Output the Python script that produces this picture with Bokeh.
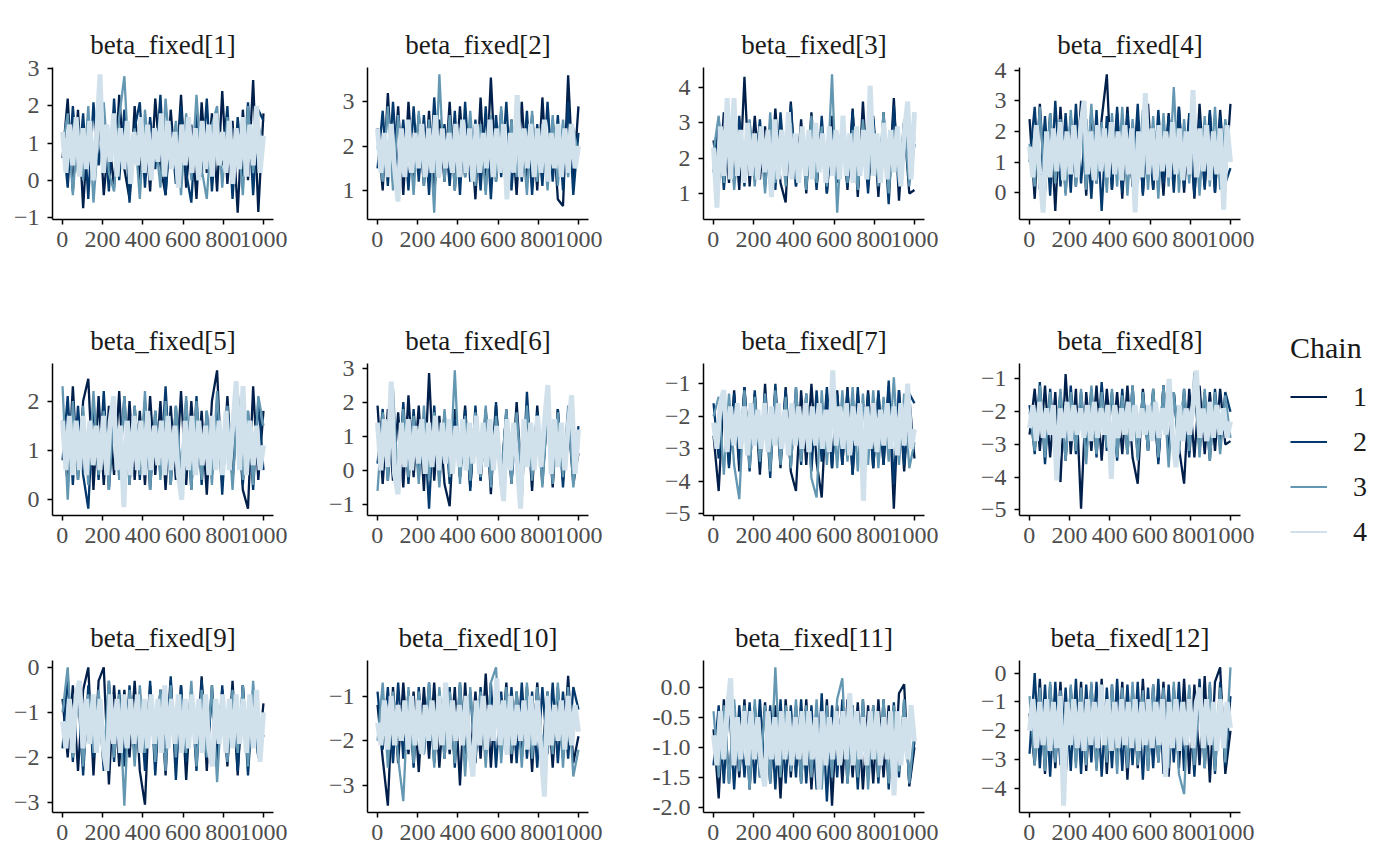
import numpy as np
from bokeh.plotting import figure
from bokeh.layouts import column, row
from bokeh.models import FixedTicker, Legend, LegendItem, PrintfTickFormatter
from bokeh.embed import file_html
from bokeh.resources import INLINE

# ---------------- data ----------------
param_names = ["beta_fixed[1]", "beta_fixed[2]", "beta_fixed[3]", "beta_fixed[4]",
               "beta_fixed[5]", "beta_fixed[6]", "beta_fixed[7]", "beta_fixed[8]",
               "beta_fixed[9]", "beta_fixed[10]", "beta_fixed[11]", "beta_fixed[12]"]
chain_names = ["1", "2", "3", "4"]
chain_colors = ["#011f4b", "#03396c", "#6497b1", "#d1e1ec"]
iter_first, iter_last = 1, 1000
x_tick_values = [0, 200, 400, 600, 800, 1000]
y_tick_values = [[-1, 0, 1, 2, 3], [1, 2, 3], [1, 2, 3, 4], [0, 1, 2, 3, 4],
                 [0, 1, 2], [-1, 0, 1, 2, 3], [-5, -4, -3, -2, -1], [-5, -4, -3, -2, -1],
                 [-3, -2, -1, 0], [-3, -2, -1], [-2.0, -1.5, -1.0, -0.5, 0.0], [-4, -3, -2, -1, 0]]

bf1_c1 = [0.6, 2.2, -0.3, 1.9, -0.75, 1.6, 0.1, 2.1, -0.4, 1.2, -0.2, 2.3, 0.3, -0.5, 2.0, 0.0, 1.7, -0.3, 2.2, 0.4, -0.4, 1.9, 0.1, 2.3, -0.2, 1.5, -0.5, 2.1, 0.2, 1.8, -0.3, 2.4, -0.1, 1.6, -0.87, 1.9, 0.0, 2.7, -0.85, 1.8]
bf1_c2 = [1.3, -0.2, 2.0, 0.2, 1.8, -0.5, 2.1, 0.4, 1.6, -0.3, 2.2, 0.0, 1.9, -0.6, 1.4, 2.1, -0.2, 1.7, 0.3, 2.3, -0.4, 1.5, -0.1, 2.0, 0.2, -0.6, 1.8, 0.1, 2.2, -0.3, 1.6, 0.4, 2.0, -0.5, 1.7, 0.1, 2.1, -0.4, 1.9, 1.6]
bf1_c3 = [0.9, 1.8, -0.4, 1.5, 0.0, 2.0, -0.6, 1.3, 2.1, 0.2, -0.3, 1.7, 2.8, 0.1, 1.4, -0.5, 1.9, 0.3, 1.2, -0.2, 2.2, 0.5, 1.6, -0.4, 1.8, 0.0, 2.3, 0.3, -0.5, 1.5, 2.0, -0.2, 1.7, 0.1, 1.3, -0.4, 2.0, 0.2, 1.5, 0.9]
bf1_c4 = [1.3, 0.2, 1.5, 0.4, 1.7, 0.1, 1.4, 0.3, 1.6, 0.0, 1.2, 2.85, 0.2, 1.5, 0.5, 1.8, 0.1, 1.4, 0.3, 1.6, -0.1, 1.3, 0.4, 1.7, 0.2, 1.5, 0.0, 1.4, 0.5, 1.8, 0.1, 1.6, 0.3, 1.3, -0.2, 1.5, 0.4, 1.7, 0.2, 1.4, 0.0, 1.6, 0.3, 1.5, 0.1, 1.8, 0.4, 1.3, 0.2, 1.6, -0.1, 1.4, 0.3, 1.7, 0.1, 1.5, 0.4, 2.0, 0.2, 1.2]

bf2_c1 = [2.4, 1.0, 3.2, 1.2, 2.9, 0.9, 3.0, 1.3, 2.7, 1.1, 2.8, 0.9, 2.6, 1.2, 3.0, 1.0, 2.9, 1.3, 2.5, 0.8, 3.1, 1.0, 3.55, 1.2, 2.8, 1.0, 2.6, 0.9, 3.0, 1.2, 2.7, 1.0, 3.1, 1.1, 2.6, 0.8, 0.65, 3.6, 1.2, 2.9]
bf2_c2 = [1.5, 2.8, 1.1, 3.0, 1.3, 2.6, 1.0, 2.9, 1.2, 2.7, 0.9, 3.1, 1.3, 2.5, 1.1, 2.8, 0.9, 3.0, 1.2, 2.6, 1.0, 2.9, 0.8, 2.7, 1.3, 3.0, 1.0, 2.6, 1.2, 2.8, 0.9, 2.5, 1.1, 3.0, 1.2, 2.7, 1.0, 3.0, 0.9, 2.3]
bf2_c3 = [2.0, 1.2, 2.9, 1.0, 2.7, 1.4, 2.5, 0.9, 2.8, 1.1, 2.6, 0.5, 3.62, 1.2, 2.7, 1.0, 2.4, 1.3, 2.8, 1.1, 2.5, 0.9, 2.7, 1.2, 2.9, 1.0, 2.6, 1.3, 2.4, 0.9, 2.8, 1.2, 2.5, 1.0, 2.7, 1.1, 2.6, 1.3, 2.4, 1.8]
bf2_c4 = [2.4, 1.4, 2.3, 1.3, 2.5, 1.5, 0.75, 2.4, 1.3, 2.6, 1.4, 2.3, 1.5, 2.5, 1.3, 2.4, 1.4, 2.7, 1.3, 2.4, 1.5, 2.3, 1.4, 2.5, 1.3, 2.6, 1.4, 2.4, 1.2, 2.5, 1.4, 2.3, 1.5, 2.6, 1.3, 2.4, 1.4, 2.5, 0.8, 2.3, 1.4, 3.15, 1.3, 2.4, 1.5, 2.5, 1.3, 2.4, 1.4, 2.6, 1.2, 2.3, 1.5, 2.5, 1.3, 2.4, 1.4, 2.5, 1.5, 2.0]

bf3_c1 = [2.5, 1.2, 3.3, 1.3, 3.0, 1.1, 4.3, 1.2, 3.2, 1.4, 2.9, 1.2, 3.4, 1.3, 0.75, 3.6, 1.2, 3.1, 1.0, 3.3, 1.2, 2.9, 1.0, 3.2, 1.3, 3.0, 1.1, 3.4, 0.9, 3.6, 1.2, 3.1, 0.9, 3.3, 1.1, 3.7, 0.8, 3.0, 1.0, 1.1]
bf3_c2 = [1.6, 3.1, 1.1, 2.9, 1.3, 3.2, 1.2, 3.0, 1.4, 3.1, 1.2, 2.8, 1.1, 3.3, 1.4, 3.5, 1.2, 2.9, 1.3, 3.0, 1.1, 3.2, 1.0, 2.8, 1.3, 3.1, 1.2, 3.3, 1.1, 2.9, 1.0, 3.2, 1.3, 3.0, 0.7, 3.5, 1.2, 3.0, 1.3, 2.4]
bf3_c3 = [2.2, 3.2, 1.3, 3.0, 1.1, 2.8, 1.4, 3.1, 1.2, 2.9, 1.0, 3.3, 1.3, 2.8, 1.2, 3.0, 1.4, 2.7, 1.1, 3.2, 1.3, 2.9, 1.2, 4.37, 0.46, 3.0, 1.3, 2.8, 1.1, 3.1, 1.4, 2.9, 1.2, 3.3, 1.0, 2.8, 1.3, 3.1, 1.2, 2.6]
bf3_c4 = [2.3, 0.6, 2.9, 1.5, 3.7, 1.4, 3.7, 1.5, 2.8, 1.3, 3.0, 1.5, 2.7, 1.4, 2.9, 1.6, 2.8, 0.9, 3.1, 1.4, 2.8, 1.5, 3.3, 1.4, 2.7, 1.3, 2.9, 1.5, 2.8, 1.4, 3.0, 1.6, 2.7, 1.3, 2.9, 1.5, 2.8, 1.4, 3.2, 1.5, 2.7, 1.3, 2.9, 1.5, 2.8, 1.4, 4.05, 1.5, 2.7, 1.3, 3.0, 1.4, 2.8, 1.6, 2.9, 1.2, 2.7, 3.6, 1.4, 3.3]

bf4_c1 = [2.4, -0.2, 2.9, 0.1, 2.6, -0.6, 2.8, 0.0, 2.5, 0.2, 3.0, -0.1, 2.7, 0.3, 2.4, 3.86, 0.1, 2.6, -0.2, 2.8, 0.2, 2.5, 0.0, 2.9, 0.1, 2.3, -0.1, 2.6, 0.3, 2.8, 0.0, 2.5, -0.2, 2.9, 0.2, 2.6, 0.0, 2.7, 0.4, 2.9]
bf4_c2 = [1.0, 2.8, 0.1, 2.5, -0.1, 3.0, 0.2, 2.6, 0.0, 2.9, 0.3, 2.4, -0.2, 2.7, -0.6, 2.5, 0.1, 2.8, 0.0, 2.6, 0.2, 2.9, -0.1, 2.4, 0.1, 2.7, 0.3, 2.5, 0.0, 2.8, 0.2, 2.6, -0.1, 2.4, 0.1, 2.7, 0.0, 2.5, 0.3, 0.8]
bf4_c3 = [1.6, 0.2, 2.8, 0.0, 2.6, 0.3, 2.4, -0.1, 2.7, 0.2, 2.5, 0.1, 2.9, 0.3, 2.3, 0.0, 2.6, 0.2, 2.8, -0.1, 2.4, 0.3, 2.7, 0.1, 2.5, -0.2, 2.6, 0.2, 3.45, 0.0, 2.4, 0.3, 2.7, -0.1, 2.5, 0.2, 2.8, 0.1, 2.4, 1.2]
bf4_c4 = [1.5, 0.5, 2.2, 0.6, -0.65, 2.0, 0.5, 2.1, 0.7, 2.3, 0.4, 2.0, 0.6, 2.2, 0.5, 2.1, 3.0, 0.6, 2.0, 0.4, 2.2, 0.7, 2.1, 0.5, 2.3, 0.6, 2.0, 0.4, 2.2, 0.6, 2.1, -0.64, 2.0, 0.5, 3.25, 0.6, 2.1, 0.4, 2.2, 0.7, 2.0, 0.5, 2.3, 0.6, 2.1, 0.4, 2.0, 0.6, 3.35, 0.5, 2.1, 0.7, 2.2, 0.4, 2.0, 0.6, 2.1, -0.55, 2.2, 1.0]

bf5_c1 = [1.6, 0.3, 2.3, 0.4, 2.0, 2.45, 0.2, 2.1, 0.3, 1.9, 0.5, 2.2, 0.2, 2.0, 0.4, 1.8, 0.3, 2.1, 0.5, 2.0, 0.2, 1.9, 0.4, 2.2, 0.3, 2.0, 0.5, 1.8, 0.1, 2.0, 2.62, 0.3, 2.1, 0.4, 1.9, 0.2, -0.18, 2.3, 0.4, 1.8]
bf5_c2 = [0.8, 2.1, 0.3, 1.9, 0.5, -0.18, 2.0, 0.4, 2.2, 0.2, 1.8, 0.5, 2.1, 0.3, 1.9, 0.4, 2.0, 0.2, 1.8, 0.5, 2.3, 0.3, 1.9, 0.4, 2.0, 0.2, 2.1, 0.3, 1.8, 0.5, 2.0, 0.1, 1.9, 0.4, 2.2, 0.3, 1.8, 0.2, 2.0, 0.6]
bf5_c3 = [2.3, 0.0, 2.0, 0.4, 1.9, 0.3, 2.2, 0.5, 1.8, 0.2, 2.0, 0.4, 2.1, 0.3, 1.9, 0.5, 2.2, 0.2, 1.8, 0.4, 2.0, 0.3, 1.9, 0.5, 2.1, 0.2, 2.0, 0.4, 1.8, 0.3, 2.2, 0.5, 1.9, 0.2, 2.0, 0.4, 1.8, 0.3, 2.1, 1.5]
bf5_c4 = [1.6, 0.6, 1.7, 0.5, 1.6, 0.6, 1.7, 0.5, 1.6, 0.7, 1.5, 0.6, 1.7, 0.5, 1.6, 2.1, 0.6, 1.5, -0.15, 1.6, 0.5, 1.7, 0.6, 1.6, 0.5, 1.8, 0.6, 1.5, 0.7, 1.6, 0.5, 1.7, 0.6, 1.5, 0.5, 0.0, 1.6, 0.6, 1.7, 0.5, 1.6, 0.7, 1.5, 0.5, 1.7, 0.6, 1.6, 0.5, 1.8, 0.6, 1.5, 2.4, 0.6, 2.3, 0.5, 1.6, 0.7, 1.5, 0.6, 1.1]

bf6_c1 = [1.9, -0.4, 1.8, -0.3, 1.7, -0.5, 2.2, -0.2, 1.9, -0.6, 2.85, -0.3, 1.6, -0.4, -1.05, 1.8, -0.2, 1.9, -0.5, 1.6, -0.3, 1.8, -0.7, 1.9, -0.2, 1.7, -0.4, 2.0, -0.3, 1.8, -0.6, 1.9, -0.2, 1.7, -0.5, 1.8, -0.3, 1.6, -0.4, 0.5]
bf6_c2 = [0.2, 1.8, -0.3, 1.7, -0.5, 2.0, -0.4, 1.8, -0.2, 1.6, -1.12, 1.9, -0.3, 1.7, -0.4, 1.5, -0.2, 1.8, -0.6, 1.9, -0.3, 1.7, -0.2, 2.0, -0.5, 1.8, -0.3, 1.6, -0.8, 2.3, -0.2, 1.7, -0.4, 1.9, -0.3, 1.8, -0.5, 1.7, -0.2, 1.3]
bf6_c3 = [-0.6, 1.7, -0.3, 2.4, -0.5, 1.8, -0.2, 1.6, -0.4, 1.9, -0.3, 1.7, -0.5, 1.8, -0.2, 2.93, -0.4, 1.6, -0.3, 1.7, -0.2, 1.9, -0.5, 1.6, -0.3, 1.8, -0.4, 1.7, -0.2, 1.9, -0.3, 1.6, -0.5, 1.8, -0.4, 1.7, -0.2, 1.9, -0.5, 0.9]
bf6_c4 = [1.4, 0.0, 1.5, 0.1, 2.6, -0.1, -0.7, 1.4, 0.1, 1.5, 0.0, 1.3, 0.2, 1.5, -0.1, 1.4, 0.1, 1.6, 0.0, 1.4, 0.2, 1.5, -0.1, 1.3, 0.1, 1.5, 0.0, 1.4, 0.2, 1.6, -0.1, 1.4, 0.1, 1.5, 0.0, 1.3, 0.1, -0.9, 1.5, 0.0, 1.4, 0.2, -1.12, 1.5, 0.1, 1.4, 0.0, 1.6, 0.1, 1.4, 2.5, -0.1, 1.5, 0.1, 1.4, 0.0, 1.3, 2.2, -0.1, 1.2]

bf7_c1 = [-2.6, -4.3, -1.3, -3.5, -1.2, -3.7, -1.1, -3.4, -1.3, -3.8, -1.0, -3.5, -1.2, -3.6, -1.1, -3.7, -4.3, -1.2, -3.5, -1.0, -3.4, -4.5, -1.3, -3.6, -1.2, -3.5, -1.1, -3.8, -1.3, -3.4, -1.2, -3.6, -1.3, -3.5, -1.1, -4.84, -1.2, -3.7, -1.4, -3.3]
bf7_c2 = [-1.6, -3.3, -1.2, -3.6, -1.3, -3.4, -1.1, -3.7, -1.2, -3.5, -1.3, -3.9, -1.0, -3.4, -1.2, -3.6, -1.1, -3.5, -1.3, -3.7, -1.2, -3.4, -1.1, -3.6, -1.3, -3.5, -1.2, -3.8, -1.1, -3.4, -1.3, -3.6, -1.2, -3.5, -0.9, -4.1, -1.2, -3.5, -1.3, -1.6]
bf7_c3 = [-2.0, -1.4, -3.8, -1.3, -3.5, -4.55, -1.2, -3.6, -1.4, -3.4, -1.3, -3.7, -1.2, -3.5, -1.4, -3.6, -1.1, -3.4, -1.3, -3.9, -4.5, -1.2, -3.5, -1.3, -3.6, -1.2, -3.4, -1.1, -3.7, -1.3, -3.5, -1.2, -3.6, -1.4, -3.4, -0.8, -3.5, -1.3, -3.6, -2.8]
bf7_c4 = [-2.2, -3.0, -1.6, -1.2, -3.1, -1.7, -2.9, -1.6, -3.0, -1.7, -3.2, -1.6, -2.9, -1.8, -3.0, -1.6, -3.1, -1.7, -2.9, -1.6, -3.0, -1.8, -3.2, -1.6, -2.9, -1.7, -3.0, -1.6, -3.1, -1.7, -2.9, -1.6, -3.0, -1.8, -3.1, -0.59, -2.9, -1.7, -3.0, -1.6, -3.2, -1.7, -2.9, -1.6, -4.6, -1.7, -3.0, -1.6, -3.1, -1.8, -2.9, -1.6, -3.0, -1.7, -3.2, -1.6, -2.9, -1.0, -3.0, -2.4]

bf8_c1 = [-2.7, -1.3, -3.2, -1.2, -3.4, -1.4, -4.15, -0.85, -3.3, -1.3, -4.96, -1.4, -3.2, -1.2, -3.5, -1.3, -3.1, -1.4, -3.3, -1.2, -3.4, -4.2, -1.3, -3.2, -1.4, -3.5, -1.2, -3.3, -1.4, -3.1, -4.2, -1.3, -3.4, -1.2, -3.3, -1.4, -3.2, -1.3, -3.0, -2.9]
bf8_c2 = [-1.8, -3.3, -1.1, -3.6, -1.3, -3.2, -1.4, -3.5, -1.2, -3.3, -1.4, -3.1, -1.3, -3.4, -1.1, -3.2, -1.4, -3.5, -1.3, -3.3, -1.2, -3.4, -1.4, -3.2, -1.3, -3.6, -1.2, -3.3, -1.4, -3.1, -1.3, -3.4, -1.2, -3.2, -1.4, -3.5, -1.3, -3.1, -1.4, -2.0]
bf8_c3 = [-2.0, -3.2, -1.2, -3.4, -1.4, -3.3, -1.3, -3.5, -1.4, -3.2, -1.3, -3.6, -1.2, -3.3, -1.4, -3.1, -1.3, -3.4, -1.5, -3.3, -1.2, -3.5, -1.4, -3.2, -1.3, -3.4, -1.2, -3.7, -1.4, -3.3, -1.3, -3.2, -0.8, -3.4, -1.3, -3.5, -1.4, -3.3, -1.5, -2.8]
bf8_c4 = [-2.5, -1.8, -2.9, -1.7, -2.8, -1.9, -2.7, -1.8, -4.1, -1.9, -2.8, -1.7, -2.9, -1.8, -2.7, -1.9, -2.8, -1.8, -2.9, -1.7, -2.8, -1.9, -2.7, -1.8, -4.05, -1.8, -2.8, -1.9, -2.7, -1.7, -2.9, -1.8, -2.8, -1.9, -2.7, -1.8, -2.9, -1.7, -2.8, -1.9, -2.7, -1.0, -2.8, -3.7, -1.8, -2.9, -1.9, -2.7, -1.8, -0.74, -2.8, -1.9, -2.9, -1.7, -2.8, -1.8, -2.7, -1.9, -2.8, -2.3]

bf9_c1 = [-0.7, -2.0, -0.4, -2.3, -0.5, 0.0, -2.4, -0.3, 0.0, -2.6, -0.4, -2.2, -0.5, -2.0, -0.3, -2.3, -3.05, -0.4, -2.1, -0.5, -2.4, -0.3, -2.2, -0.4, -2.5, -0.5, -2.1, -0.2, -2.3, -0.4, -2.0, -0.5, -2.2, -0.3, -2.4, -0.4, -2.1, -0.6, -2.0, -0.8]
bf9_c2 = [-1.8, -0.2, -2.1, -0.5, -2.4, -0.4, -2.0, -0.6, -2.3, -0.3, -2.1, -0.5, -2.2, -0.4, -2.0, -0.6, -2.3, -0.3, -2.4, -0.5, -2.0, -0.2, -2.5, -0.4, -2.1, -0.5, -2.3, -0.3, -2.0, -0.6, -2.2, -0.4, -2.1, -0.5, -2.3, -0.4, -2.4, -0.6, -2.0, -1.5]
bf9_c3 = [-1.0, 0.0, -2.0, -0.4, -2.2, -0.6, -1.9, -0.5, -2.1, -0.3, -2.0, -0.6, -3.07, -0.5, -2.2, -0.4, -1.9, -0.6, -2.1, -0.5, -2.3, -0.4, -2.0, -0.6, -1.9, -0.3, -2.2, -0.5, -2.0, -0.4, -2.55, -0.6, -2.1, -0.5, -1.9, -0.4, -2.2, -0.3, -2.0, -1.1]
bf9_c4 = [-1.2, -1.8, -0.7, -1.9, -0.6, -0.3, -1.8, -0.7, -1.7, -0.6, -1.9, -0.7, -1.8, -2.3, -0.6, -1.7, -0.7, -1.9, -0.6, -1.8, -0.7, -1.7, -0.6, -1.9, -0.7, -1.8, -0.6, -1.7, -0.7, -1.9, -0.4, -1.8, -0.7, -1.7, -0.6, -1.9, -0.7, -1.8, -0.6, -1.7, -0.7, -1.9, -0.6, -1.8, -2.2, -0.7, -1.7, -0.6, -1.9, -0.7, -1.8, -0.6, -1.7, -0.7, -1.9, -0.6, -1.8, -0.5, -2.1, -1.0]

bf10_c1 = [-1.2, -2.4, -3.45, -0.8, -2.5, -0.7, -2.3, -0.9, -2.7, -0.8, -2.4, -0.7, -2.6, -0.9, -2.3, -0.8, -3.0, -0.7, -2.5, -0.9, -2.4, -0.5, -2.6, -0.8, -2.3, -0.7, -2.5, -0.9, -2.4, -0.8, -2.7, -0.7, -2.3, -0.9, -2.6, -0.8, -2.4, -0.55, -2.5, -1.9]
bf10_c2 = [-0.9, -2.2, -0.8, -2.5, -0.7, -2.4, -0.9, -2.6, -0.8, -2.3, -0.7, -2.5, -0.9, -2.4, -0.8, -2.6, -0.7, -2.3, -0.9, -2.5, -0.8, -2.4, -0.7, -2.6, -0.9, -2.3, -0.8, -2.5, -0.7, -2.4, -0.9, -2.6, -0.8, -2.3, -0.7, -2.5, -0.9, -2.4, -0.8, -1.3]
bf10_c3 = [-2.0, -0.7, -2.6, -0.9, -2.4, -3.35, -0.8, -2.5, -0.9, -2.3, -0.7, -2.6, -0.8, -2.4, -0.9, -2.5, -0.7, -2.8, -0.8, -2.4, -0.9, -2.6, -0.7, -0.36, -2.5, -0.8, -2.3, -0.9, -2.6, -0.7, -2.4, -0.8, -2.5, -0.9, -2.3, -0.7, -2.6, -0.8, -2.8, -2.2]
bf10_c4 = [-1.6, -2.1, -1.1, -2.2, -1.0, -2.1, -1.2, -2.0, -1.1, -2.2, -1.0, -2.1, -1.1, -2.3, -1.2, -2.0, -1.1, -2.2, -1.0, -2.1, -0.7, -2.2, -1.1, -2.0, -1.2, -2.1, -1.0, -2.2, -2.8, -1.1, -2.1, -1.0, -2.2, -1.2, -2.0, -0.6, -2.1, -1.1, -2.3, -1.0, -2.1, -1.2, -2.0, -1.1, -2.2, -1.0, -2.1, -1.1, -2.2, -3.25, -1.0, -2.1, -1.2, -2.0, -1.1, -2.2, -1.0, -2.1, -1.2, -1.8]

bf11_c1 = [-0.7, -1.85, -0.2, -1.6, -0.3, -1.5, -0.2, -1.7, -0.3, -1.5, -0.25, -1.6, -0.3, -1.85, -0.2, -1.5, -0.3, -1.6, -0.2, -1.7, -0.35, -1.5, -0.2, -1.97, -0.3, -1.6, -0.2, -1.5, -0.25, -1.7, -0.3, -1.6, -0.2, -1.5, -0.3, -1.7, -0.1, 0.05, -1.65, -1.0]
bf11_c2 = [-1.3, -0.3, -1.6, -0.2, -1.7, -0.3, -1.5, -0.25, -1.6, -0.2, -1.5, -0.3, -1.7, -0.2, -1.6, -0.3, -1.5, -0.2, -1.6, -0.3, -1.7, -0.1, -1.9, -0.3, -1.5, -0.2, -1.6, -0.3, -1.7, -0.2, -1.5, -0.3, -1.6, -0.2, -1.7, -0.25, -1.5, -0.2, -1.6, -0.9]
bf11_c3 = [-0.4, -1.5, -0.3, -1.6, -0.2, -1.4, -0.3, -1.7, -0.2, -1.5, -0.3, -1.6, 0.33, -1.5, -0.3, -1.4, -0.2, -1.6, -0.3, -1.5, -0.2, -1.7, -0.3, -1.5, -0.2, 0.15, -1.6, -0.3, -1.5, -0.2, -1.7, -0.3, -1.5, -0.2, -1.6, -0.3, -1.4, -0.2, -1.6, -0.7]
bf11_c4 = [-0.8, -1.3, -0.4, -1.2, -0.4, 0.15, -1.3, -0.5, -1.2, -0.4, -1.3, -0.4, -1.2, -0.5, -1.3, -1.65, -0.4, -1.2, -0.5, -1.3, -0.4, -1.2, -0.4, -1.3, -0.5, -1.2, -0.4, -1.3, -0.4, -1.2, -0.5, -1.7, -0.4, -1.3, -0.5, -1.2, -0.4, -1.3, -0.4, -1.2, -0.1, -1.3, -0.4, -1.2, -0.5, -1.3, -0.4, -1.2, -0.4, -1.3, -0.5, -1.2, -0.4, -1.8, -0.4, -1.3, -0.5, -1.2, -0.3, -0.9]

bf12_c1 = [-1.4, -3.2, -0.2, -3.5, -0.4, -3.3, -0.3, -3.6, -0.5, -3.1, -0.3, -3.4, -0.4, -3.3, -0.2, -3.5, -0.4, -3.2, -0.3, -3.7, -0.5, -3.3, -0.2, -3.4, -0.4, -3.1, -0.3, -3.6, -0.5, -3.3, -0.2, -3.5, -0.4, -3.2, -0.1, -3.8, -0.3, 0.2, -3.5, -2.0]
bf12_c2 = [-2.8, 0.0, -3.3, -0.4, -3.6, -0.3, -3.2, -0.5, -3.4, -0.2, -3.5, -0.4, -3.1, -0.3, -3.6, -0.5, -3.3, -0.2, -3.4, -0.4, -3.2, -0.3, -3.7, -0.5, -3.3, -0.2, -3.5, -0.4, -3.1, -0.3, -3.4, -0.5, -3.6, -0.2, -3.3, -0.4, -3.5, -0.3, -3.2, -0.8]
bf12_c3 = [-0.8, -3.2, -0.5, -3.4, -0.3, -3.1, -0.6, -3.5, -0.4, -3.3, -0.5, -3.2, -0.3, -3.4, -0.6, -3.1, -0.4, -3.5, -0.5, -3.3, -0.3, -3.2, -0.6, -3.4, -0.4, -3.1, -0.5, -3.3, -0.3, -3.5, -4.2, -0.4, -3.2, -0.6, -3.3, -0.3, -3.4, -0.5, -3.1, 0.2]
bf12_c4 = [-2.0, -0.9, -2.6, -1.0, -2.5, -0.9, -2.7, -1.0, -2.6, -0.8, -4.6, -1.0, -2.5, -0.9, -2.6, -1.0, -2.7, -0.9, -2.5, -1.0, -2.6, -0.4, -2.5, -0.9, -2.7, -1.0, -2.6, -0.9, -2.5, -1.0, -2.6, -0.9, -2.7, -1.0, -2.5, -0.9, -2.6, -1.0, -2.5, -0.9, -3.6, -1.0, -2.6, -0.9, -2.7, -1.0, -2.5, -0.9, -2.6, -1.0, -0.5, -2.6, -0.9, -2.5, -1.0, -2.7, -0.9, -2.6, -1.0, -1.9]

panel_chains = [
    [bf1_c1, bf1_c2, bf1_c3, bf1_c4], [bf2_c1, bf2_c2, bf2_c3, bf2_c4],
    [bf3_c1, bf3_c2, bf3_c3, bf3_c4], [bf4_c1, bf4_c2, bf4_c3, bf4_c4],
    [bf5_c1, bf5_c2, bf5_c3, bf5_c4], [bf6_c1, bf6_c2, bf6_c3, bf6_c4],
    [bf7_c1, bf7_c2, bf7_c3, bf7_c4], [bf8_c1, bf8_c2, bf8_c3, bf8_c4],
    [bf9_c1, bf9_c2, bf9_c3, bf9_c4], [bf10_c1, bf10_c2, bf10_c3, bf10_c4],
    [bf11_c1, bf11_c2, bf11_c3, bf11_c4], [bf12_c1, bf12_c2, bf12_c3, bf12_c4],
]

# ---------------- styling ----------------
FONT = "Liberation Serif"
FRAME_W, FRAME_H = 221, 152
COL_LEFT = [52, 52, 65, 52]
COL_RIGHT = [42, 50, 43, 160]
ROW_TOP = [67, 67, 67]
ROW_BOTTOM = [77, 78, 53]
CHAIN_WIDTH = [2.3, 2.3, 2.3, 5.0]


def make_panel(k):
    r, c = divmod(k, 4)
    p = figure(frame_width=FRAME_W, frame_height=FRAME_H,
               min_border_left=COL_LEFT[c], min_border_right=COL_RIGHT[c],
               min_border_top=ROW_TOP[r], min_border_bottom=ROW_BOTTOM[r],
               output_backend="svg", toolbar_location=None, title=param_names[k])
    p.title.align = "center"
    p.title.text_font = FONT
    p.title.text_font_size = "27px"
    p.title.text_font_style = "normal"
    p.title.text_color = "#1a1a1a"
    p.title.standoff = 15

    for vals, color, lw in zip(panel_chains[k], chain_colors, CHAIN_WIDTH):
        iters = np.linspace(iter_first, iter_last, len(vals))
        p.line(iters, vals, line_color=color, line_width=lw)

    p.xgrid.visible = False
    p.ygrid.visible = False
    p.outline_line_color = None
    p.background_fill_color = "white"
    p.border_fill_color = "white"

    p.xaxis.ticker = FixedTicker(ticks=x_tick_values)
    p.yaxis.ticker = FixedTicker(ticks=y_tick_values[k])
    if k == 10:
        p.yaxis.formatter = PrintfTickFormatter(format="%.1f")
    for ax in (p.xaxis, p.yaxis):
        ax.axis_line_color = "black"
        ax.axis_line_width = 1.5
        ax.major_tick_line_color = "black"
        ax.major_tick_line_width = 1.5
        ax.major_tick_out = 5
        ax.major_tick_in = 0
        ax.minor_tick_line_color = None
        ax.major_label_text_font = FONT
        ax.major_label_text_font_size = "24px"
        ax.major_label_text_color = "#4d4d4d"
    p.xaxis.major_label_standoff = 7
    p.yaxis.major_label_standoff = 8

    if k == 7:
        items = []
        for name, color in zip(chain_names, chain_colors):
            rr = p.line(x=[np.nan], y=[np.nan], line_color=color, line_width=1.8)
            items.append(LegendItem(label=name, renderers=[rr]))
        legend = Legend(items=items, title="Chain", location="center_left")
        legend.title_text_font = FONT
        legend.title_text_font_size = "30px"
        legend.title_text_font_style = "normal"
        legend.title_text_color = "#1a1a1a"
        legend.title_standoff = 16
        legend.label_text_font = FONT
        legend.label_text_font_size = "28px"
        legend.label_text_color = "#1a1a1a"
        legend.glyph_width = 37
        legend.glyph_height = 30
        legend.label_height = 30
        legend.label_standoff = 26
        legend.spacing = 13
        legend.padding = 0
        legend.margin = 50
        legend.border_line_color = None
        legend.background_fill_alpha = 0
        p.add_layout(legend, "right")
    return p


panels = [make_panel(k) for k in range(12)]
layout = column(row(*panels[0:4]), row(*panels[4:8]), row(*panels[8:12]))

open("out.html", "w").write(file_html(layout, INLINE))
